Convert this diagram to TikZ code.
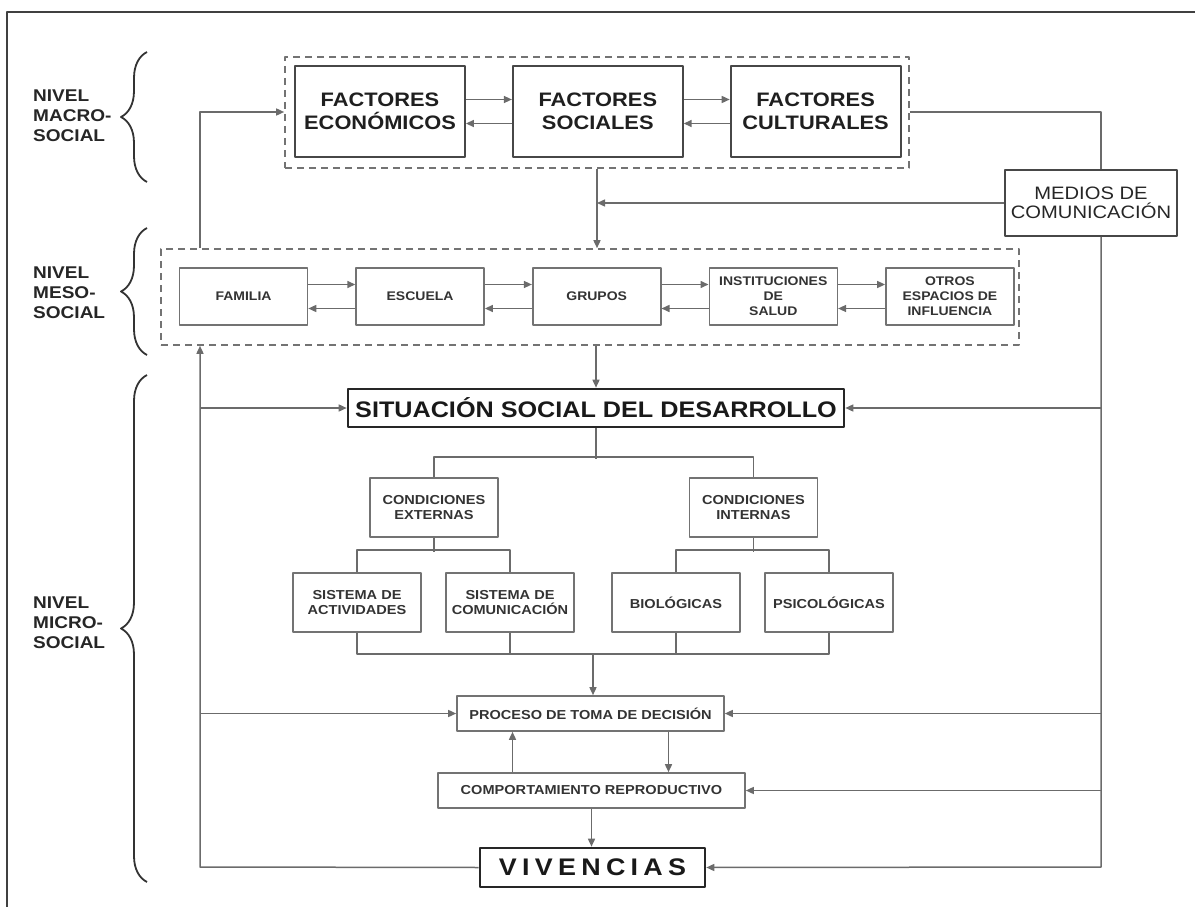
\documentclass[tikz,border=0pt]{standalone}
\usepackage{fontspec}
\setmainfont[FakeStretch=1.12]{Liberation Sans}
\usetikzlibrary{arrows.meta,positioning,decorations.pathreplacing}
\definecolor{linegray}{gray}{0.42}
\definecolor{boxgray}{gray}{0.45}
\definecolor{textgray}{gray}{0.2}
\begin{document}
\begin{tikzpicture}[x=1pt,y=-1pt,>={Triangle[length=8pt,width=7pt]},line join=round,
    big/.style={draw=black!72,line width=1.8pt,minimum width=170pt,minimum height=91pt,inner sep=1pt,font=\fontsize{19.5}{22.5}\selectfont\bfseries,text=black!88,align=center},
    meso/.style={draw=boxgray,line width=1.6pt,minimum width=128pt,minimum height=57pt,inner sep=1pt,font=\fontsize{12.5}{15}\selectfont\bfseries,text=textgray,align=center},
    micro/.style={draw=boxgray,line width=1.6pt,minimum width=128pt,minimum height=59pt,inner sep=1pt,font=\fontsize{13}{15}\selectfont\bfseries,text=textgray,align=center},
    wide/.style={draw=boxgray,line width=1.6pt,minimum height=35pt,inner sep=1pt,font=\fontsize{13}{15}\selectfont\bfseries,text=textgray},
    strong/.style={draw=black!85,line width=2.6pt,inner sep=1pt,text=black!90},
    level/.style={font=\fontsize{17}{20}\selectfont\bfseries,text=black!85,align=left,anchor=west,inner sep=0pt},
    dashbox/.style={draw=boxgray,line width=1.6pt,dash pattern=on 7pt off 5pt},
    link/.style={draw=linegray,line width=1.5pt},
    curly/.style={draw=black!80,line width=1.8pt,decorate,decoration={brace,amplitude=26pt}}]
    \useasboundingbox (0,0) rectangle (1195,907);
    \draw[black!75,line width=2pt] (7,907) -- (7,12) -- (1195,12);
    \node[level] (macroL) at (33,116) {NIVEL\\MACRO-\\SOCIAL};
    \node[level] (mesoL) at (33,293) {NIVEL\\MESO-\\SOCIAL};
    \node[level] (microL) at (33,623) {NIVEL\\MICRO-\\SOCIAL};
    \draw[curly] (147,182) -- (147,52);
    \draw[curly] (147,355) -- (147,228);
    \draw[curly] (147,882) -- (147,375);
    \node[dashbox,minimum width=624pt,minimum height=111pt] (macro) at (597,112.5) {};
    \node[big] (econ) at (380,111.5) {FACTORES\\ECONÓMICOS};
    \node[big,right=46pt of econ] (soc) {FACTORES\\SOCIALES};
    \node[big,right=46pt of soc] (cult) {FACTORES\\CULTURALES};
    \node[draw=black!72,line width=1.6pt,minimum width=172pt,minimum height=66pt,inner sep=1pt,font=\fontsize{18}{18.5}\selectfont,text=black!85,align=center] (medios) at (1091,203) {MEDIOS DE\\COMUNICACIÓN};
    \node[dashbox,minimum width=858pt,minimum height=96pt] (mesobox) at (590,297) {};
    \node[meso] (familia) at (243.5,296.5) {FAMILIA};
    \node[meso,right=47pt of familia] (escuela) {ESCUELA};
    \node[meso,right=47pt of escuela] (grupos) {GRUPOS};
    \node[meso,right=47pt of grupos] (inst) {INSTITUCIONES\\DE\\SALUD};
    \node[meso,right=47pt of inst] (otros) {OTROS\\ESPACIOS DE\\INFLUENCIA};
    \node[strong,minimum width=496pt,minimum height=38pt,font=\fontsize{22.5}{24}\selectfont\bfseries] (ssd) at (596,408) {SITUACIÓN SOCIAL DEL DESARROLLO};
    \node[micro] (cext) at (434,507.5) {CONDICIONES\\EXTERNAS};
    \node[micro] (cint) at (753.5,507.5) {CONDICIONES\\INTERNAS};
    \node[micro] (sact) at (357,602.5) {SISTEMA DE\\ACTIVIDADES};
    \node[micro] (scom) at (510,602.5) {SISTEMA DE\\COMUNICACIÓN};
    \node[micro] (bio) at (676,602.5) {BIOLÓGICAS};
    \node[micro] (psi) at (829,602.5) {PSICOLÓGICAS};
    \node[wide,minimum width=267pt] (proceso) at (590.5,713.5) {PROCESO DE TOMA DE DECISIÓN};
    \node[wide,minimum width=307pt] (comport) at (591.5,790.5) {COMPORTAMIENTO REPRODUCTIVO};
    \node[strong,minimum width=225pt,minimum height=39pt,font=\fontsize{24}{26}\selectfont\bfseries\addfontfeatures{LetterSpace=22}] (viv) at (592.5,867.5) {VIVENCIAS};
    \coordinate (ltop) at (200,112);
    \coordinate (lbot) at (200,867);
    \coordinate (rtop) at (1101,112);
    \coordinate (rbot) at (1101,867);
    \coordinate (join) at (593,653);
    \foreach \a/\b in {econ/soc,soc/cult,familia/escuela,escuela/grupos,grupos/inst,inst/otros}
    {
        \draw[link,->] ([yshift=12pt]\a.east) -- ([yshift=12pt]\b.west);
        \draw[link,->] ([yshift=-12pt]\b.west) -- ([yshift=-12pt]\a.east);
    }
    \draw[link] (macro.east |- rtop) -- (rtop) -- (rtop |- medios.north);
    \draw[link,->] (medios.west) -- (medios.west -| macro.south);
    \draw[link,->] (macro.south) -- (macro.south |- mesobox.north);
    \draw[link,->] (mesobox.north -| ltop) -- (ltop) -- (ltop -| macro.west);
    \draw[link,->] (mesobox.south -| ssd.north) -- (ssd.north);
    \draw[link,->] (viv.west) -- (lbot) -- (lbot |- mesobox.south);
    \draw[link,->] (lbot |- ssd.west) -- (ssd.west);
    \draw[link,->] (lbot |- proceso.west) -- (proceso.west);
    \draw[link,->] (rtop |- medios.south) -- (rbot) -- (viv.east);
    \foreach \n in {ssd,proceso,comport}
        \draw[link,->] (rbot |- \n.east) -- (\n.east);
    \draw[link] (ssd.south) -- ++(0,31);
    \draw[link] (cext.north) -- ++(0,-20) -| (cint.north);
    \draw[link] (cext.south) -- ++(0,14);
    \draw[link] (cint.south) -- ++(0,14);
    \draw[link] (sact.north) -- ++(0,-22) -| (scom.north);
    \draw[link] (bio.north) -- ++(0,-22) -| (psi.north);
    \draw[link] (sact.south) -- ++(0,21) -| (psi.south);
    \draw[link] (scom.south) -- ++(0,21);
    \draw[link] (bio.south) -- ++(0,21);
    \draw[link,->] (join) -- (join |- proceso.north);
    \draw[link,->] ([xshift=-79pt]comport.north) -- ([xshift=-79pt]comport.north |- proceso.south);
    \draw[link,->] ([xshift=78pt]proceso.south) -- ([xshift=78pt]proceso.south |- comport.north);
    \draw[link,->] (comport.south) -- (comport.south |- viv.north);
\end{tikzpicture}
\end{document}
